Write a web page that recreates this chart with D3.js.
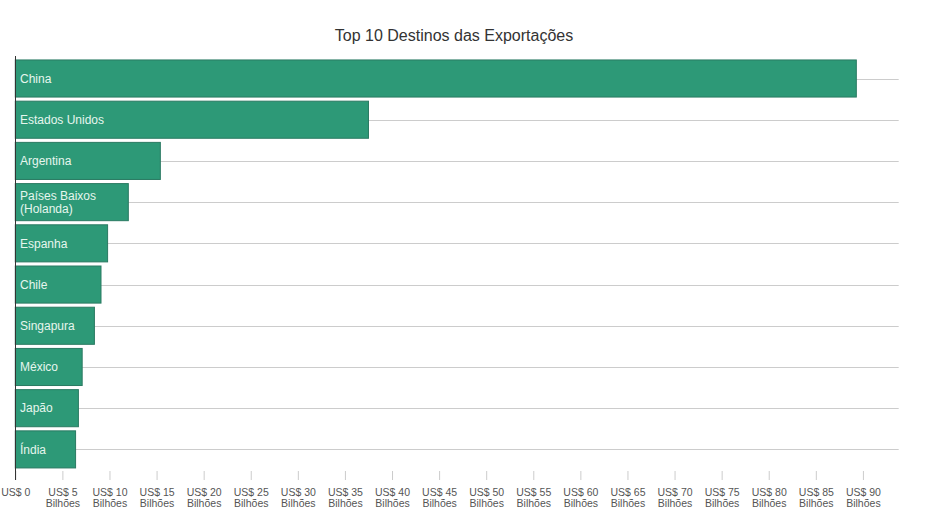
<!DOCTYPE html>
<html><head><meta charset="utf-8">
<script src="https://cdn.jsdelivr.net/npm/d3@7/dist/d3.min.js"></script>
<style>body{margin:0;background:#fff;}svg{display:block;font-family:"Liberation Sans",Arial,sans-serif;}</style>
</head><body>
<svg id="c" width="943" height="530"></svg>
<script>
const categories = ["China","Estados Unidos","Argentina","Países Baixos (Holanda)","Espanha","Chile","Singapura","México","Japão","Índia"];
const labelLines = [["China"],["Estados Unidos"],["Argentina"],["Países Baixos","(Holanda)"],["Espanha"],["Chile"],["Singapura"],["México"],["Japão"],["Índia"]];
const values = [89.3, 37.5, 15.4, 12.0, 9.8, 9.1, 8.4, 7.1, 6.7, 6.4];
const tickValues = [0,5,10,15,20,25,30,35,40,45,50,55,60,65,70,75,80,85,90];
const tickLabel = v => v === 0 ? ["US$ 0"] : ["US$ " + v, "Bilhões"];
const title = "Top 10 Destinos das Exportações";

const svg = d3.select("#c");
const x = d3.scaleLinear().domain([0, 93.8]).range([15.3, 898.7]);
const y = d3.scaleBand().domain(categories).range([57.9, 470]).paddingInner(0.1).paddingOuter(0.05);

svg.append("text").attr("x", 454).attr("y", 41).attr("text-anchor","middle")
  .attr("font-size", 16).attr("fill", "#333").text(title);

// gridlines at band centers
svg.append("g").selectAll("line").data(categories).join("line")
  .attr("x1", x(0)).attr("x2", x.range()[1])
  .attr("y1", d => Math.round(y(d) + y.bandwidth()/2) + 0.5)
  .attr("y2", d => Math.round(y(d) + y.bandwidth()/2) + 0.5)
  .attr("stroke", "#ccc").attr("stroke-width", 1);

// bars
svg.append("g").selectAll("rect").data(categories).join("rect")
  .attr("x", x(0)).attr("y", d => y(d))
  .attr("width", (d,i) => x(values[i]) - x(0))
  .attr("height", y.bandwidth())
  .attr("fill", "#2d9977")
  .attr("stroke", "#2a7a62").attr("stroke-width", 1);

// labels
const lg = svg.append("g");
categories.forEach((c,i) => {
  const lines = labelLines[i];
  const cy = y(c) + y.bandwidth()/2;
  const lh = 13;
  const t = lg.append("text").attr("x", 20).attr("font-size", 12).attr("fill", "#e6f6ee");
  lines.forEach((l,j) => {
    t.append("tspan").attr("x", 20)
      .attr("y", cy + 4.3 + (j - (lines.length-1)/2) * lh).text(l);
  });
});

// x axis
const axis = d3.axisBottom(x).tickValues(tickValues).tickSize(9).tickFormat("");
const ag = svg.append("g").attr("transform", "translate(0,471)").call(axis);
ag.select(".domain").remove();
ag.selectAll(".tick line").attr("stroke", "#ccc");
ag.selectAll(".tick").each(function(v){
  const g = d3.select(this);
  const t = g.append("text").attr("fill", "#555").attr("font-size", 10.5).attr("text-anchor","middle")
    .attr("font-family", '"Liberation Sans",Arial,sans-serif');
  tickLabel(v).forEach((l,j) => t.append("tspan").attr("x", 0).attr("y", 24.5 + j*11.5).text(l));
});

// left axis line
svg.append("line").attr("x1", 15.5).attr("x2", 15.5).attr("y1", 56).attr("y2", 480)
  .attr("stroke", "#333").attr("stroke-width", 1);
</script>
</body></html>
